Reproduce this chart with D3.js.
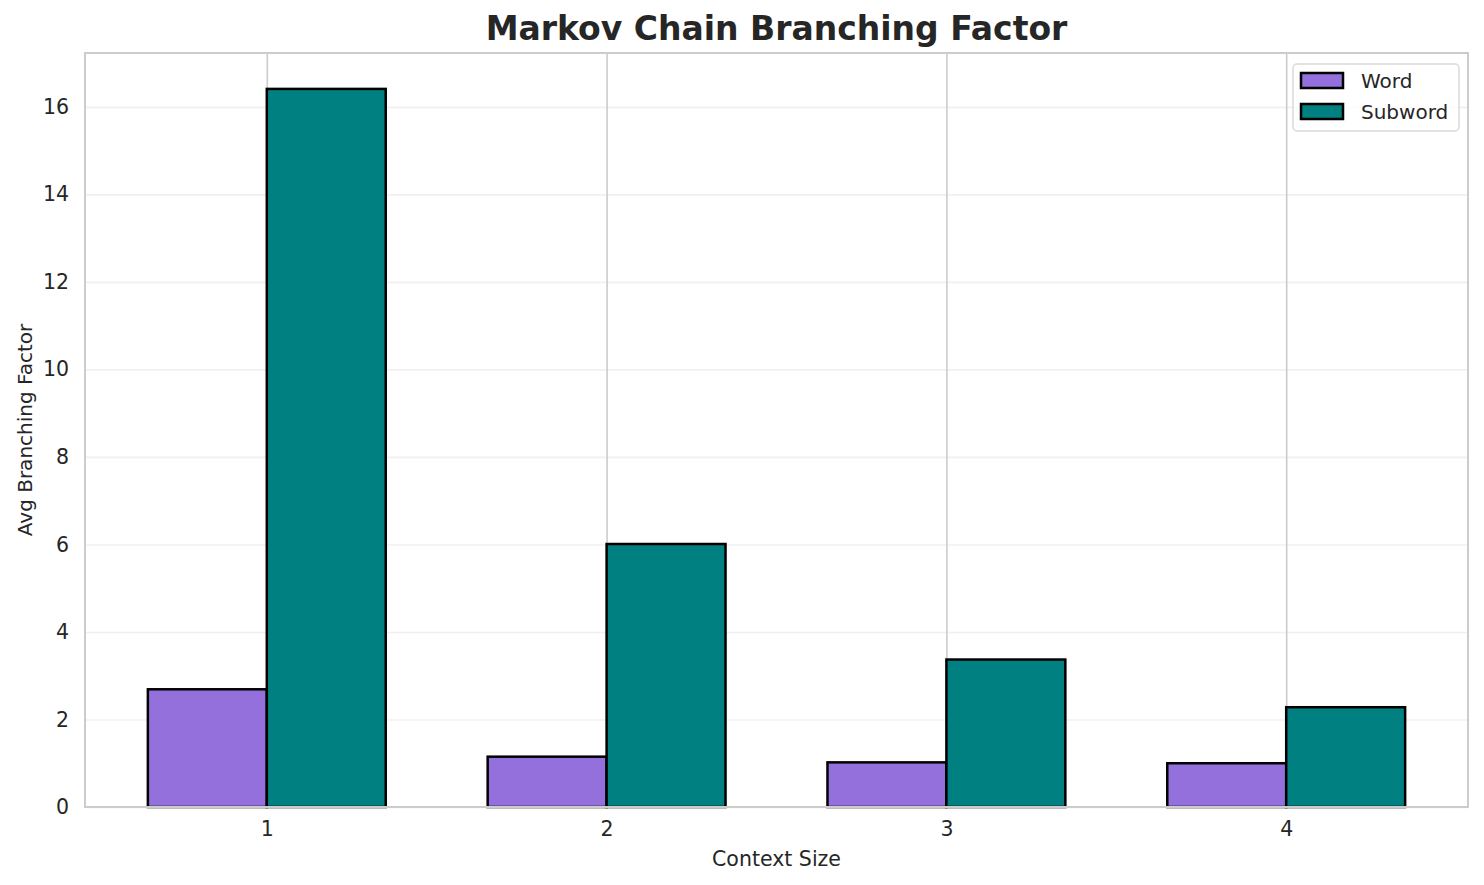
<!DOCTYPE html>
<html>
<head>
<meta charset="utf-8">
<script src="https://cdn.jsdelivr.net/npm/d3@7"></script>
<style>
 body{margin:0;background:#fff;}
 svg{display:block;font-family:"DejaVu Sans",sans-serif;}
</style>
</head>
<body>
<svg id="svg" width="1484" height="885"></svg>
<script>
var contextSizes=[1,2,3,4];
var seriesNames=['Word','Subword'];
var wordValues=[2.69,1.15,1.02,1.00];
var subwordValues=[16.41,6.01,3.37,2.28];
var yTicks=[0,2,4,6,8,10,12,14,16];

var colors={Word:'#9370db',Subword:'#008080'};
var svg=d3.select("#svg");
var padding={top:53,right:16,bottom:78,left:85};
var chartArea={width:1484-padding.left-padding.right,height:885-padding.top-padding.bottom};
var barW=0.35;

var xScale=d3.scaleLinear()
    .domain([1-barW-0.185,4+barW+0.185])
    .range([0,chartArea.width]);
var yScale=d3.scaleLinear()
    .domain([0,d3.max(subwordValues)*1.05])
    .range([chartArea.height,0]);

var g=svg.append("g").attr('transform','translate('+padding.left+','+padding.top+')');

// grid
g.append("g").attr("class","grid")
  .call(d3.axisLeft(yScale).tickValues(yTicks).tickSize(-chartArea.width).tickFormat(""))
  .call(function(s){s.select(".domain").remove();s.selectAll("line").attr("stroke","#cccccc").attr("stroke-opacity",0.3).attr("stroke-width",1.6);});
g.append("g").attr("class","grid")
  .attr('transform','translate(0,'+chartArea.height+')')
  .call(d3.axisBottom(xScale).tickValues(contextSizes).tickSize(-chartArea.height).tickFormat(""))
  .call(function(s){s.select(".domain").remove();s.selectAll("line").attr("stroke","#cccccc").attr("stroke-width",1.6);});

// bars
var rows=[];
contextSizes.forEach(function(c,i){
  rows.push({c:c,s:'Word',v:wordValues[i],off:-barW});
  rows.push({c:c,s:'Subword',v:subwordValues[i],off:0});
});
g.append("g").selectAll("rect").data(rows).enter()
  .append("rect")
  .attr("x",function(d){return xScale(d.c+d.off);})
  .attr("width",function(d){return xScale(d.c+d.off+barW)-xScale(d.c+d.off);})
  .attr("y",function(d){return yScale(d.v);})
  .attr("height",function(d){return chartArea.height-yScale(d.v);})
  .attr("fill",function(d){return colors[d.s];})
  .attr("stroke","#000").attr("stroke-width",2.5);

// frame
g.append("rect").attr("width",chartArea.width).attr("height",chartArea.height)
  .attr("fill","none").attr("stroke","#cccccc").attr("stroke-width",2);

// axes labels
var yAx=g.append("g").call(d3.axisLeft(yScale).tickValues(yTicks).tickSize(0).tickPadding(16));
yAx.select(".domain").remove();
yAx.selectAll("text").attr("font-size","20.5px").attr("fill","#262626").attr("font-family","DejaVu Sans");
var xAx=g.append("g").attr('transform','translate(0,'+chartArea.height+')')
  .call(d3.axisBottom(xScale).tickValues(contextSizes).tickFormat(d3.format("d")).tickSize(0).tickPadding(14));
xAx.select(".domain").remove();
xAx.selectAll("text").attr("font-size","20.5px").attr("fill","#262626").attr("font-family","DejaVu Sans");

svg.append("text").attr("x",padding.left+chartArea.width/2).attr("y",866)
  .attr("text-anchor","middle").attr("font-size","20.5px").attr("fill","#262626").text("Context Size");
svg.append("text").attr("transform","translate(32,"+(padding.top+chartArea.height/2)+") rotate(-90)")
  .attr("text-anchor","middle").attr("font-size","20px").attr("fill","#262626").text("Avg Branching Factor");
svg.append("text").attr("x",padding.left+chartArea.width/2).attr("y",40)
  .attr("text-anchor","middle").attr("font-size","33px").attr("font-weight","bold").attr("fill","#262626")
  .text("Markov Chain Branching Factor");

// legend
var lg=svg.append("g").attr("transform","translate(1293,64)");
lg.append("rect").attr("width",166).attr("height",67).attr("rx",4)
  .attr("fill","#fff").attr("fill-opacity",0.8).attr("stroke","#d9d9d9").attr("stroke-width",1.5);
seriesNames.forEach(function(n,i){
  lg.append("rect").attr("x",8).attr("y",9+i*31).attr("width",42).attr("height",15)
    .attr("fill",colors[n]).attr("stroke","#000").attr("stroke-width",2.5);
  lg.append("text").attr("x",68).attr("y",24+i*31).attr("font-size","20px").attr("fill","#262626").text(n);
});
</script>
</body>
</html>
